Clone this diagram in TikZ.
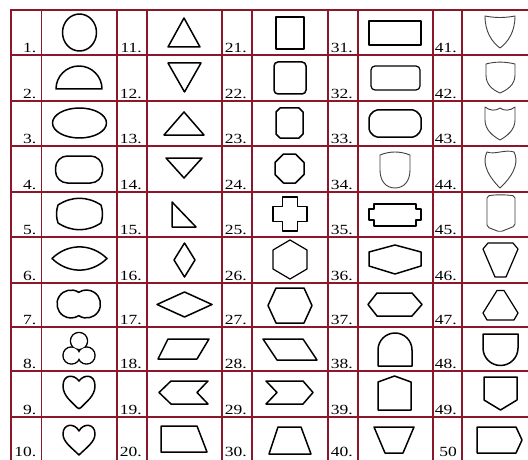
\documentclass[tikz,border=0pt]{standalone}
\usepackage{fontspec}
\newfontfamily\numfont[FakeStretch=1.25]{Liberation Serif}
\definecolor{gridred}{RGB}{140,22,42}
\begin{document}
\begin{tikzpicture}[x=1pt,y=-1pt,
  gridline/.style={draw=gridred,line width=1.8pt},
  shp/.style={draw=black,line width=1.5pt,line join=round},
  thn/.style={draw=black!75,line width=0.9pt,line join=round},
  mid/.style={draw=black,line width=1.2pt,line join=round},
  num/.style={font=\numfont\fontsize{14}{14}\selectfont,anchor=base east,inner sep=0pt}]
\useasboundingbox (0,0) rectangle (528,460);
\fill[white] (0,0) rectangle (528,460);
% grid
\foreach \y in {10,55,101,146,192,237,283,327,371,417}
  \draw[gridline] (10.1,\y) -- (545,\y);
\foreach \x in {11,41.5,117,147,222,252,328,358,433,462}
  \draw[gridline] (\x,9.1) -- (\x,475);
% numbers
\foreach \r/\yb in {1/55,2/101,3/146,4/192,5/237,6/283,7/327,8/371,9/417,10/459}{
  \foreach \g/\xr in {0/41.5,1/147,2/252,3/358,4/462}{
    \pgfmathtruncatemacro\n{\g*10+\r}
    \node[num] (n\n) at (\xr-5,\yb-2.5) {\ifnum\n=50 50\else\n.\fi};
  }
}
% ---- column 1
\draw[shp] (79.5,32.5) ellipse [x radius=17, y radius=18.5];
\draw[shp] (56,89) arc[start angle=180, end angle=360, radius=23] -- cycle;
\draw[shp] (79.5,123) ellipse [x radius=27, y radius=15];
\draw[shp, rounded corners=12pt] (55.5,156) rectangle (102.5,183);
\draw[shp] (58,205) .. controls (72,196) and (87,196) .. (101,205)
  .. controls (103,211) and (103,217) .. (101,223)
  .. controls (87,232) and (72,232) .. (58,223)
  .. controls (56,217) and (56,211) .. (58,205) -- cycle;
\draw[shp] (52,258.5) .. controls (68,243) and (91,243) .. (107,258.5)
  .. controls (91,274) and (68,274) .. (52,258.5) -- cycle;
\draw[shp] (78.75,292.34) arc[start angle=303.6, end angle=56.4, radius=14]
  arc[start angle=123.6, end angle=-123.6, radius=14] -- cycle;
\foreach \c in {(79,341),(71.5,355.5),(86.5,355.5)} \draw[shp] \c circle[radius=8.5];
\foreach \c in {(79,341),(71.5,355.5),(86.5,355.5)} \fill[white] \c circle[radius=7.8];
\draw[shp] (79,381) .. controls (84,374) and (95,374) .. (95,386)
  .. controls (95,396) and (86,402) .. (81,407.5)
  .. controls (80,409) and (78,409) .. (77,407.5)
  .. controls (72,402) and (63,396) .. (63,386)
  .. controls (63,374) and (74,374) .. (79,381) -- cycle;
\draw[shp] (79,431) .. controls (83,423) and (95,423) .. (95,434)
  .. controls (95,442) and (86,448) .. (79,455)
  .. controls (72,448) and (63,442) .. (63,434)
  .. controls (63,423) and (75,423) .. (79,431) -- cycle;
% ---- column 2
\draw[shp] (184,18) -- (200,47) -- (168,47) -- cycle;
\draw[shp] (168,63) -- (201,63) -- (184.5,92) -- cycle;
\draw[shp] (184,112) -- (204,135) -- (164,135) -- cycle;
\draw[shp] (166,158) -- (202,158) -- (184,178) -- cycle;
\draw[shp] (172,202) -- (196,227) -- (172,227) -- cycle;
\draw[shp] (184.5,243) -- (195,260) -- (184.5,277) -- (174,260) -- cycle;
\draw[shp] (184.5,292) -- (212,304.5) -- (184.5,317) -- (157,304.5) -- cycle;
\draw[shp] (168,339) -- (209,339) -- (197,359) -- (158,359) -- cycle;
\draw[shp] (159,392.5) -- (171,381) -- (208,381) -- (197,392.5) -- (208,404) -- (171,404) -- cycle;
\draw[shp] (161,426) -- (197,426) -- (207,452) -- (161,452) -- cycle;
% ---- column 3
\draw[shp] (276,17) rectangle (304,49);
\draw[shp, rounded corners=4pt] (274,62) rectangle (306,94);
\draw[shp] (280,108) -- (299,108) -- (303,112) -- (303,134) -- (299,138) -- (280,138) -- (276,134) -- (276,112) -- cycle;
\draw[shp] (283.5,154) -- (295.5,154) -- (304,162.5) -- (304,174.5) -- (295.5,183) -- (283.5,183) -- (275,174.5) -- (275,162.5) -- cycle;
\draw[shp] (282.5,197) -- (297.5,197) -- (297.5,206.5) -- (307,206.5) -- (307,221.5) -- (297.5,221.5) -- (297.5,231) -- (282.5,231) -- (282.5,221.5) -- (273,221.5) -- (273,206.5) -- (282.5,206.5) -- cycle;
\draw[mid] (290,240) -- (307,250) -- (307,269) -- (290,279) -- (273,269) -- (273,250) -- cycle;
\draw[shp] (276,288) -- (304,288) -- (312,305.5) -- (304,323) -- (276,323) -- (268,305.5) -- cycle;
\draw[shp] (263,339) -- (303,339) -- (317,360) -- (277,360) -- cycle;
\draw[shp] (266,381) -- (303,381) -- (313,392.5) -- (303,404) -- (266,404) -- (277,392.5) -- cycle;
\draw[shp] (278,427) -- (301,427) -- (311,454) -- (269,454) -- cycle;
% ---- column 4
\draw[shp] (369,21) rectangle (421,45);
\draw[mid, rounded corners=4pt] (371,66) rectangle (420,90);
\draw[shp, rounded corners=2pt] (375,110) -- (415,110) -- (421,116) -- (421,131) -- (415,137) -- (375,137) -- (369,131) -- (369,116) -- cycle;
\draw[thn] (380,155) .. controls (390,151) and (400,151) .. (410,155) -- (410,170)
  .. controls (410,181) and (404,188) .. (395,188)
  .. controls (386,188) and (380,181) .. (380,170) -- cycle;
\draw[mid] (374,204) -- (416,204) -- (416,209) -- (421,209) -- (421,220) -- (416,220) -- (416,226) -- (374,226) -- (374,220) -- (369,220) -- (369,209) -- (374,209) -- cycle;
\draw[shp] (395,245) -- (421,252) -- (421,266) -- (395,274) -- (369,266) -- (369,252) -- cycle;
\draw[shp] (377,293) -- (412,293) -- (422,304.5) -- (412,316) -- (377,316) -- (368,304.5) -- cycle;
\draw[shp] (378,366) -- (378,350) arc[start angle=180, end angle=360, radius=17] -- (412,366) -- cycle;
\draw[shp] (394.5,376) -- (411,382) -- (411,410) -- (378,410) -- (378,382) -- cycle;
\draw[shp] (374,427) -- (414,427) -- (403,453) -- (385,453) -- cycle;
% ---- column 5
\draw[thn] (485,16) .. controls (495,18) and (505,18) .. (515,16)
  .. controls (515,32) and (508,42) .. (500,48)
  .. controls (492,42) and (485,32) .. (485,16) -- cycle;
\draw[thn] (486,64) .. controls (495,61.5) and (505,61.5) .. (515,64) -- (515,75)
  .. controls (515,85) and (507,90) .. (500,93)
  .. controls (493,90) and (486,85) .. (486,75) -- cycle;
\draw[thn] (485,107) .. controls (490,111) and (496,111) .. (500,108)
  .. controls (504,111) and (510,111) .. (515,107) -- (515,120)
  .. controls (515,130) and (507,136) .. (500,140)
  .. controls (493,136) and (485,130) .. (485,120) -- cycle;
\draw[thn] (487,152) .. controls (495,155) and (505,149) .. (514,152)
  .. controls (518,160) and (517,172) .. (500,188)
  .. controls (484,172) and (483,160) .. (487,152) -- cycle;
\draw[thn, rounded corners=2pt] (487,196) .. controls (496,194.5) and (505,194.5) .. (515,196) -- (515,226) -- (500,232) -- (487,227) -- cycle;
\draw[mid] (488,243) -- (513,243) -- (518,249) -- (506,277) -- (495,277) -- (483,249) -- cycle;
\draw[mid] (497,290.5) -- (504,290.5) -- (518,313) -- (514,320) -- (487,320) -- (483,313) -- cycle;
\draw[shp] (483,334) -- (518,334) -- (518,348) arc[start angle=0, end angle=180, radius=17.5] -- cycle;
\draw[shp] (484,377) -- (517,377) -- (517,400) -- (500.5,410) -- (484,400) -- cycle;
\draw[shp] (477,427) -- (516,427) -- (522,440) -- (516,453) -- (477,453) -- cycle;
\end{tikzpicture}
\end{document}
